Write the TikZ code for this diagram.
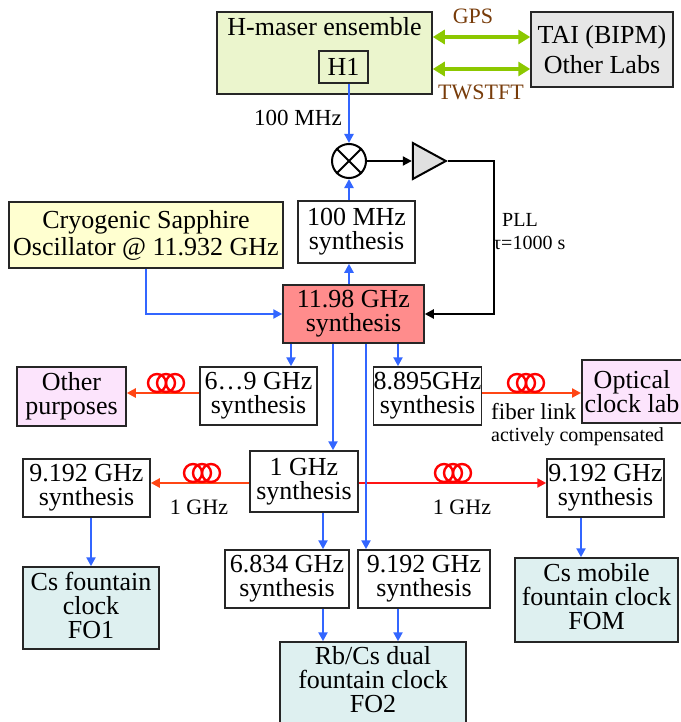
\documentclass[tikz,border=0pt]{standalone}
\usepackage{fontspec}
\setmainfont{Liberation Serif}
\usetikzlibrary{arrows.meta,shapes.geometric,calc}
\definecolor{cblue}{RGB}{51,102,255}
\definecolor{cgreen}{RGB}{140,200,0}
\definecolor{cbrown}{RGB}{120,60,10}
\definecolor{fhm}{RGB}{235,245,205}
\definecolor{ftai}{RGB}{230,230,230}
\definecolor{fcso}{RGB}{255,255,208}
\definecolor{fsal}{RGB}{255,140,140}
\definecolor{fpink}{RGB}{252,228,252}
\definecolor{fteal}{RGB}{222,240,240}
\definecolor{cfib}{RGB}{255,70,20}
\definecolor{cfibr}{RGB}{255,20,20}
\definecolor{ccoil}{RGB}{255,0,0}
\newcommand\fibercoil[2]{\foreach \dx in {-9,0,9}{\draw[coil] (#1+\dx,#2) circle[radius=9];}}
\begin{document}
\begin{tikzpicture}[x=1pt,y=-1pt,
 box/.style={draw=black!85, line width=1.5pt, inner sep=0pt, align=center, font=\fontsize{26}{24}\selectfont},
 txt/.style={inner sep=0pt, align=center, font=\fontsize{26}{24}\selectfont},
 barrow/.style={cblue, line width=2.8pt, -{Triangle[length=9pt,width=9pt]}},
 karrow/.style={black, line width=2pt, -{Triangle[length=9pt,width=9pt]}},
 garrow/.style={cgreen, line width=4.8pt, {Triangle[length=12pt,width=14pt]}-{Triangle[length=12pt,width=14pt]}},
 farrow/.style={cfib, line width=2.6pt, -{Triangle[length=9pt,width=9pt]}},
 coil/.style={ccoil, line width=2.4pt},
 lbl/.style={inner sep=0pt, font=\fontsize{22}{24}\selectfont}
]
\useasboundingbox (0,0) rectangle (680,722);
\fill[white] (0,0) rectangle (680,722);

% top
\node[box, fill=fhm, minimum width=215, minimum height=82] (hm) at (324.5,53) {};
\node[txt] (hmt) at (324.5,27) {H-maser ensemble};
\node[box, fill=fhm, minimum width=49, minimum height=32] (h1) at (343.5,67) {H1};
\node[box, fill=ftai, minimum width=142, minimum height=75, font=\fontsize{26}{30}\selectfont] (tai) at (602,49.5) {TAI (BIPM)\\Other Labs};
\coordinate (g1) at (0,37);
\coordinate (g2) at (0,69);
\draw[garrow] (hm.east |- g1) -- (tai.west |- g1);
\draw[garrow] (hm.east |- g2) -- (tai.west |- g2);
\node[lbl, text=cbrown] (gps) at (473,16) {GPS};
\node[lbl, text=cbrown] (tw) at (481,92) {TWSTFT};

% mixer and amplifier
\node[circle, draw, line width=2pt, minimum size=34, inner sep=0pt] (mix) at (349,161) {};
\draw[line width=2pt] (mix.north west) -- (mix.south east) (mix.north east) -- (mix.south west);
\node[isosceles triangle, draw, line width=2pt, fill=black!12, minimum height=33, minimum width=36, inner sep=0pt, isosceles triangle stretches] (amp) at (423.5,161) {};
\node[lbl, font=\fontsize{23}{24}\selectfont] (l100) at (298,118) {100 MHz};
\node[lbl, font=\fontsize{20}{24}\selectfont, anchor=west] (pll) at (502,220) {PLL};
\node[lbl, font=\fontsize{20}{24}\selectfont, anchor=west] (tau) at (493,243) {τ=1000 s};

% synthesis chain
\node[box, fill=white, minimum width=117, minimum height=62] (syn100) at (356.5,232) {100 MHz\\synthesis};
\node[box, fill=fcso, minimum width=274, minimum height=66, font=\fontsize{26}{27}\selectfont] (cso) at (146,235) {Cryogenic Sapphire\\Oscillator @ 11.932 GHz};
\node[box, fill=fsal, minimum width=141, minimum height=58] (s1198) at (353.5,314) {11.98 GHz\\synthesis};

\node[box, fill=fpink, minimum width=109, minimum height=59] (other) at (71.5,396.5) {Other\\purposes};
\node[box, fill=white, minimum width=117, minimum height=58] (s69) at (258.5,396) {6…9 GHz\\synthesis};
\node[box, fill=white, minimum width=107, minimum height=58] (s8895) at (427.5,396) {8.895GHz\\synthesis};
\node[box, fill=fpink, minimum width=130, minimum height=63, anchor=west] (opt) at (581,391.5) {};
\node[txt] (optt) at (632,391.5) {Optical\\clock lab};
\node[lbl, font=\fontsize{23}{24}\selectfont, anchor=west] (fl) at (491,412) {fiber link};
\node[lbl, font=\fontsize{20}{24}\selectfont, anchor=west] (ac) at (491,437) {actively compensated};

\node[box, fill=white, minimum width=108, minimum height=61] (s1g) at (304,481.5) {1 GHz\\synthesis};
\node[box, fill=white, minimum width=127, minimum height=58] (s9192L) at (86.5,488) {9.192 GHz\\synthesis};
\node[box, fill=white, minimum width=117, minimum height=58] (s9192R) at (605.5,488) {9.192 GHz\\synthesis};
\node[lbl] (g1l) at (199,507) {1 GHz};
\node[lbl] (g1r) at (462,507) {1 GHz};

\node[box, fill=white, minimum width=124, minimum height=58] (s6834) at (287,579) {6.834 GHz\\synthesis};
\node[box, fill=white, minimum width=132, minimum height=58] (s9192M) at (424,579) {9.192 GHz\\synthesis};
\node[box, fill=fteal, minimum width=136, minimum height=82,
      label={[txt, yshift=3pt]center:{Cs fountain\\clock\\FO1}}] (csf) at (91,608) {};
\node[box, fill=fteal, minimum width=163, minimum height=84,
      label={[txt, yshift=3pt]center:{Cs mobile\\fountain clock\\FOM}}] (csm) at (596.5,600) {};
\node[box, fill=fteal, minimum width=186, minimum height=84,
      label={[txt, yshift=4pt]center:{Rb/Cs dual\\fountain clock\\FO2}}] (rb) at (373,684) {};

% connectors
\coordinate (c1) at (291,0);
\coordinate (c2) at (333,0);
\coordinate (c3) at (366,0);
\coordinate (c4) at (398,0);
\coordinate (c5) at (323,0);
\coordinate (c6) at (91,0);
\coordinate (c7) at (581,0);
\coordinate (f1) at (0,393);
\coordinate (f2) at (0,483);

\draw[barrow] (mix.north |- h1.south) -- (mix.north);
\draw[barrow] (syn100.north -| mix) -- (mix.south);
\draw[barrow] (s1198.north -| mix) -- (syn100.south -| mix);
\draw[karrow] (mix.east) -- (amp.lower side);
\draw[karrow] (amp.apex) -- ++(46,0) |- (s1198.east);
\draw[barrow] (cso.south) |- (s1198.west);

\draw[farrow] (s69.west |- f1) -- (other.east |- f1);
\draw[farrow] (s8895.east |- f1) -- (opt.west |- f1);
\draw[farrow] (s1g.west |- f2) -- (s9192L.east |- f2);
\draw[farrow, cfibr] (s1g.east |- f2) -- (s9192R.west |- f2);
\fibercoil{166}{383}
\fibercoil{526}{383}
\fibercoil{202}{473}
\fibercoil{453}{473}

\draw[barrow] (s1198.south -| c1) -- (s69.north -| c1);
\draw[barrow] (s1198.south -| c2) -- (s1g.north -| c2);
\draw[barrow] (s1198.south -| c3) -- (s9192M.north -| c3);
\draw[barrow] (s1198.south -| c4) -- (s8895.north -| c4);
\draw[barrow] (s1g.south -| c5) -- (s6834.north -| c5);
\draw[barrow] (s6834.south -| c5) -- (rb.north -| c5);
\draw[barrow] (s9192M.south -| c4) -- (rb.north -| c4);
\draw[barrow] (s9192L.south -| c6) -- (csf.north -| c6);
\draw[barrow] (s9192R.south -| c7) -- (csm.north -| c7);
\end{tikzpicture}
\end{document}
